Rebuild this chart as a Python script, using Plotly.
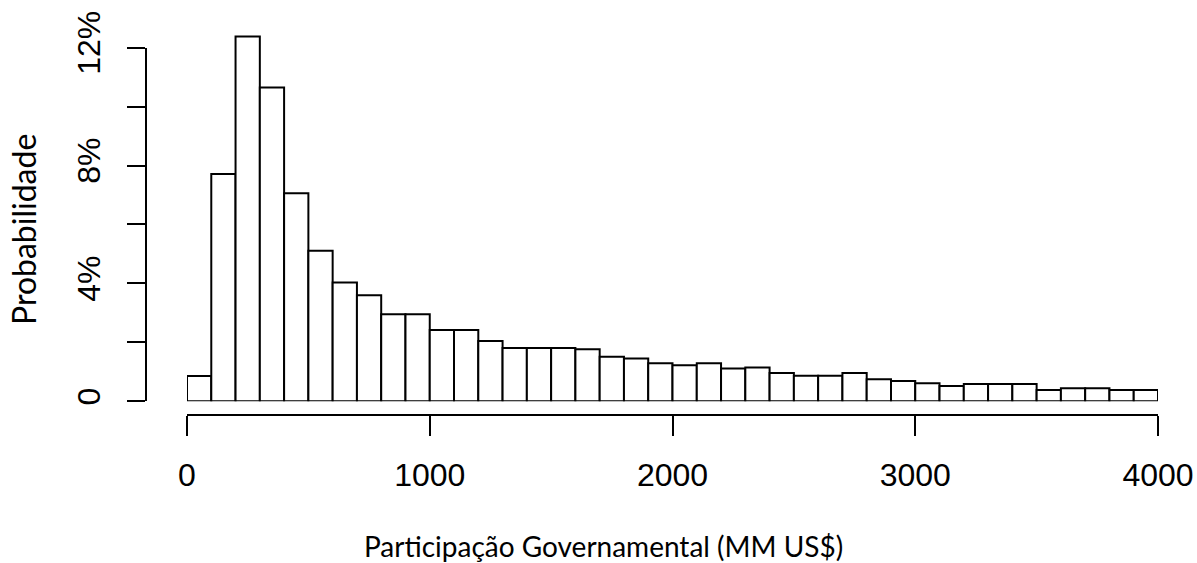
import plotly.graph_objects as go

# Histogram of government take, bins of 100 (MM US$) from 0 to 4000
bin_width = 100
bin_starts = list(range(0, 4000, bin_width))
prob_pct = [
    0.86, 7.71, 12.38, 10.65, 7.06, 5.11, 4.03, 3.60, 2.95, 2.95,
    2.42, 2.42, 2.05, 1.81, 1.81, 1.81, 1.77, 1.51, 1.45, 1.29,
    1.22, 1.29, 1.11, 1.15, 0.96, 0.87, 0.87, 0.96, 0.75, 0.69,
    0.61, 0.52, 0.59, 0.59, 0.59, 0.38, 0.44, 0.44, 0.38, 0.38,
]

x_ticks = [0, 1000, 2000, 3000, 4000]
y_ticks = [0, 2, 4, 6, 8, 10, 12]
y_tick_text = ["0", "", "4%", "", "8%", "", "12%"]

x_title = "Participação Governamental (MM US$)"
y_title = "Probabilidade"

bin_centers = [s + bin_width / 2 for s in bin_starts]

# page geometry (pixels)
W, H = 1197, 563
left, right, top, bottom = 146, 1158, 30, 415      # plot area
x0_px = 187                                        # where x = 0 sits
y0_px, y12_px = 401.3, 47.6                        # where 0% and 12% sit
plot_w, plot_h = right - left, bottom - top

x_dom0 = (x0_px - left) / plot_w
y_dom0 = (bottom - y0_px) / plot_h
y_dom12 = (bottom - y12_px) / plot_h
y_top_val = 12 * (y0_px - top) / (y0_px - y12_px)

fig = go.Figure()
fig.add_trace(go.Bar(
    x=bin_centers, y=prob_pct, width=bin_width,
    marker=dict(color="white", line=dict(color="black", width=2)),
    xaxis="x", yaxis="y", showlegend=False, hoverinfo="skip",
))
# carrier for the visible probability axis (0% - 12%)
fig.add_trace(go.Scatter(
    x=[None], y=[None], mode="markers", xaxis="x", yaxis="y2",
    showlegend=False, hoverinfo="skip",
))

tick_font = dict(family="Liberation Sans, Arial", size=32, color="black")

fig.update_layout(
    width=W, height=H,
    margin=dict(l=left, r=W - right, t=top, b=H - bottom, pad=0),
    paper_bgcolor="white", plot_bgcolor="rgba(0,0,0,0)",
    xaxis=dict(
        domain=[x_dom0, 1], range=[0, 4000], anchor="free", position=0,
        automargin=False,
        showline=True, linecolor="black", linewidth=2,
        ticks="outside", ticklen=20, tickwidth=2, tickcolor="black",
        tickvals=x_ticks, tickfont=tick_font, ticklabelstandoff=12,
        showgrid=False, zeroline=False,
    ),
    yaxis=dict(
        domain=[y_dom0, 1], range=[0, y_top_val], visible=False,
        automargin=False, showgrid=False, zeroline=False,
    ),
    yaxis2=dict(
        domain=[y_dom0, y_dom12], range=[0, 12], anchor="free", position=0,
        automargin=False,
        showline=True, linecolor="black", linewidth=2,
        ticks="outside", ticklen=18, tickwidth=2, tickcolor="black",
        tickvals=y_ticks, ticktext=y_tick_text, tickangle=-90,
        tickfont=tick_font, ticklabelstandoff=14,
        showgrid=False, zeroline=False,
    ),
    annotations=[
        dict(text=x_title, xref="paper", yref="paper",
             x=(603 - left) / plot_w, y=(bottom - 546) / plot_h,
             xanchor="center", yanchor="middle", showarrow=False,
             font=dict(family="Lato, Open Sans", size=28, color="black")),
        dict(text=y_title, xref="paper", yref="paper",
             x=(24 - left) / plot_w, y=(bottom - 230) / plot_h,
             xanchor="center", yanchor="middle", showarrow=False,
             textangle=-90,
             font=dict(family="Lato, Open Sans", size=32, color="black")),
    ],
)

fig.write_html("out.html")
